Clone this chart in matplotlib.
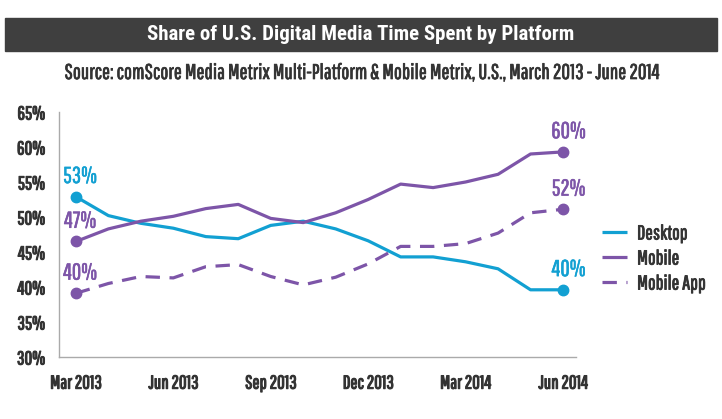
import matplotlib.pyplot as plt
import matplotlib.patheffects as pe
from matplotlib.patches import Rectangle

plt.rcParams['font.family'] = ['Pathway Gothic One', 'DejaVu Sans']

# data (share of time spent, %)
months = ['Mar 2013', 'Apr 2013', 'May 2013', 'Jun 2013', 'Jul 2013', 'Aug 2013',
          'Sep 2013', 'Oct 2013', 'Nov 2013', 'Dec 2013', 'Jan 2014', 'Feb 2014',
          'Mar 2014', 'Apr 2014', 'May 2014', 'Jun 2014']
desktop = [52.9, 50.2, 49.1, 48.4, 47.2, 46.9, 48.8, 49.4, 48.3, 46.6, 44.3, 44.3,
           43.6, 42.6, 39.6, 39.6]
mobile = [46.5, 48.3, 49.4, 50.1, 51.2, 51.8, 49.8, 49.2, 50.6, 52.5, 54.7, 54.2,
          55.0, 56.1, 59.0, 59.3]
mobile_app = [39.1, 40.5, 41.5, 41.3, 42.9, 43.2, 41.5, 40.3, 41.4, 43.3, 45.8, 45.8,
              46.2, 47.7, 50.6, 51.1]
start_labels = ['53%', '47%', '40%']
end_labels = ['40%', '60%', '52%']
tick_months = ['Mar 2013', 'Jun 2013', 'Sep 2013', 'Dec 2013', 'Mar 2014', 'Jun 2014']
yticks = [30, 35, 40, 45, 50, 55, 60, 65]

blue = '#12a0d2'
purple = '#7d55a8'
text_col = '#333333'


def heavy(col, w=0.6):
    # thicken the light condensed font a bit
    return [pe.withStroke(linewidth=w, foreground=col)]


fig = plt.figure(figsize=(7.22, 4.19), dpi=100)
fig.patch.set_facecolor('white')

# title bar
fig.patches.append(Rectangle((5 / 722, 1 - 51 / 419), 712 / 722, 33 / 419,
                             transform=fig.transFigure, color='#3f3f3f', zorder=0))
fig.text(0.5, 1 - 34.5 / 419, 'Share of U.S. Digital Media Time Spent by Platform',
         color='white', fontsize=15, fontweight='bold', ha='center', va='center',
         family=['Roboto Condensed', 'DejaVu Sans'])
fig.text(0.5, 1 - 73 / 419,
         'Source: comScore Media Metrix Multi-Platform & Mobile Metrix, U.S., March 2013 - June 2014',
         color=text_col, fontsize=15.3, ha='center', va='center', path_effects=heavy(text_col, 0.5))

ax = fig.add_axes([59 / 722, 1 - 357 / 419, (576 - 59) / 722, (357 - 112) / 419])
x = list(range(len(months)))

series = [(desktop, blue, '-', 'Desktop'),
          (mobile, purple, '-', 'Mobile'),
          (mobile_app, purple, (0, (4.5, 3)), 'Mobile App')]

for i, (vals, col, ls, name) in enumerate(series):
    ax.plot(x, vals, color=col, lw=2.3, linestyle=ls, label=name,
            solid_capstyle='butt', dash_capstyle='butt')
    ax.plot([x[0], x[-1]], [vals[0], vals[-1]], 'o', color=col, ms=7.5, zorder=5)
    ax.annotate(start_labels[i], (x[0], vals[0]), xytext=(3, 7), textcoords='offset points',
                ha='center', va='bottom', color=col, fontsize=16.5, path_effects=heavy(col, 0.4))
    ax.annotate(end_labels[i], (x[-1], vals[-1]), xytext=(4, 7), textcoords='offset points',
                ha='center', va='bottom', color=col, fontsize=16.5, path_effects=heavy(col, 0.4))

ax.set_xlim(-0.52, 15.4)
ax.set_ylim(30, 65)
ax.set_yticks(yticks)
ax.set_yticklabels([f'{v}%' for v in yticks])
ax.set_xticks([months.index(m) for m in tick_months])
ax.set_xticklabels(tick_months)
ax.tick_params(length=0, labelsize=13.5, labelcolor=text_col)
ax.tick_params(axis='x', pad=12)
ax.tick_params(axis='y', pad=10)
for lab in ax.get_xticklabels() + ax.get_yticklabels():
    lab.set_path_effects(heavy(text_col, 0.8))
for s in ['top', 'right']:
    ax.spines[s].set_visible(False)
for s in ['left', 'bottom']:
    ax.spines[s].set_color('#aaaaaa')
    ax.spines[s].set_linewidth(1)

leg = ax.legend(loc='center left', bbox_to_anchor=(1.05, 0.40), frameon=False,
                borderaxespad=0, borderpad=0,
                fontsize=14.5, handlelength=1.25, labelspacing=0.3, handletextpad=0.5)
for t in leg.get_texts():
    t.set_color(text_col)
    t.set_path_effects(heavy(text_col, 0.6))

fig.savefig('out.png', dpi=100)
